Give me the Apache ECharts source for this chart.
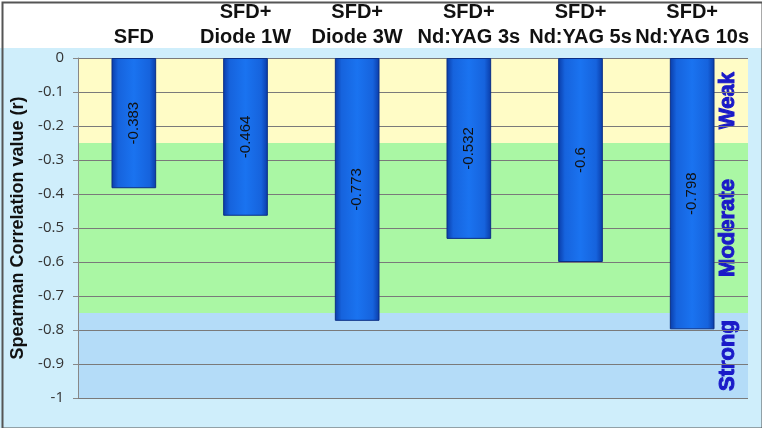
<!DOCTYPE html>
<html>
<head>
<meta charset="utf-8">
<script src="https://cdn.jsdelivr.net/npm/echarts@6/dist/echarts.min.js"></script>
<style>
html, body { margin: 0; padding: 0; background: #cfeefb; }
#main { width: 762px; height: 428px; }
</style>
</head>
<body>
<div id="main"></div>
<script>
// chart data
var categories = ['SFD', 'SFD+\nDiode 1W', 'SFD+\nDiode 3W', 'SFD+\nNd:YAG 3s', 'SFD+\nNd:YAG 5s', 'SFD+\nNd:YAG 10s'];
var values = [-0.383, -0.464, -0.773, -0.532, -0.6, -0.798];
var bandNames = ['Weak', 'Moderate', 'Strong'];
var bandFrom = [0, -0.25, -0.75];
var bandTo = [-0.25, -0.75, -1];

var bandColors = ['#fffcc6', '#aaf7a4', '#b4dcf8'];

var bandLabel = {
    show: true,
    position: 'insideRight',
    rotate: 90,
    align: 'center',
    verticalAlign: 'bottom',
    distance: 9,
    opacity: 1,
    fontFamily: 'Liberation Sans',
    fontSize: 22,
    fontWeight: 'bold',
    color: '#1a1ac8',
    textBorderColor: '#1a1ac8',
    textBorderWidth: 1
};

var bands = bandNames.map(function (n, i) {
    return [
        { name: n, yAxis: bandFrom[i], itemStyle: { color: bandColors[i], opacity: 1 } },
        { yAxis: bandTo[i] }
    ];
});

var chartDom = document.getElementById('main');
var myChart = echarts.init(chartDom);

var option = {
    backgroundColor: '#cfeefb',
    animation: false,
    textStyle: { fontFamily: 'Liberation Sans' },
    graphic: [
        { type: 'rect', left: 0, top: 0, shape: { width: 762, height: 48 }, style: { fill: '#ffffff' }, z: -1 },
        { type: 'rect', left: 0, top: 0, shape: { x: 1, y: 1, width: 760, height: 426 }, style: { fill: 'none', stroke: '#555', lineWidth: 2 }, z: 100 }
    ],
    grid: { left: 78, right: 14, top: 58, bottom: 30 },
    xAxis: {
        type: 'category',
        position: 'top',
        data: categories,
        z: 1.5,
        axisLine: { show: false },
        axisTick: { inside: true, length: 5, lineStyle: { color: '#777' } },
        axisLabel: { interval: 0, fontSize: 20, fontWeight: 'bold', color: '#111', lineHeight: 25, margin: 8 }
    },
    yAxis: {
        type: 'value',
        min: -1,
        max: 0,
        interval: 0.1,
        z: 1.5,
        name: 'Spearman Correlation value (r)',
        nameLocation: 'middle',
        nameGap: 50,
        nameTextStyle: { fontSize: 18, fontWeight: 'bold', color: '#111' },
        axisLine: { show: true, lineStyle: { color: '#888' } },
        axisTick: { show: true, length: 5, lineStyle: { color: '#888' } },
        splitLine: { lineStyle: { color: '#7a7a7a' } },
        axisLabel: { fontFamily: 'Open Sans', fontSize: 15, color: '#333', margin: 14 }
    },
    series: [
        {
            type: 'bar',
            data: values,
            barWidth: '40%',
            itemStyle: {
                color: new echarts.graphic.LinearGradient(0, 0, 1, 0, [
                    { offset: 0, color: '#0a3ca8' },
                    { offset: 0.15, color: '#1663dd' },
                    { offset: 0.5, color: '#1a73f0' },
                    { offset: 0.85, color: '#1663dd' },
                    { offset: 1, color: '#0a3ca8' }
                ]),
                borderColor: '#0b2f86',
                borderWidth: 1
            },
            label: { show: true, position: 'inside', rotate: 90, fontSize: 15, color: '#111' },
            markArea: {
                silent: true,
                label: bandLabel,
                data: bands
            }
        }
    ]
};

myChart.setOption(option);
</script>
</body>
</html>
